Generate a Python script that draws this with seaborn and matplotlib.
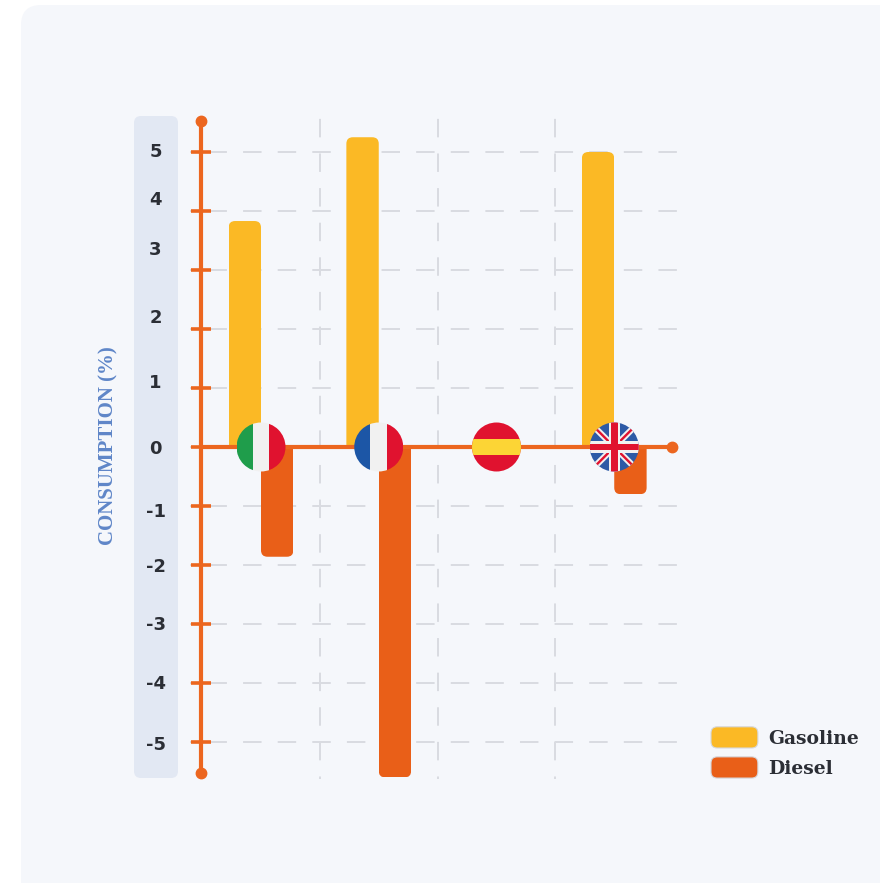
import matplotlib
matplotlib.use("Agg")
import matplotlib.pyplot as plt
from matplotlib.legend_handler import HandlerPatch
from matplotlib.patches import Circle, FancyBboxPatch, Patch, Rectangle
from matplotlib.transforms import ScaledTranslation
import pandas as pd
import seaborn as sns

# Change in fuel consumption by country
countries = ["Italy", "France", "Spain", "United Kingdom"]
gasoline = [3.83, 5.25, 0.0, 5.0]
diesel = [-1.86, -5.6, 0.0, -0.8]
fuels = ["Gasoline", "Diesel"]
fuel_colors = ["#fbb925", "#e95f18"]
tick_values = [5, 4, 3, 2, 1, 0, -1, -2, -3, -4, -5]
tick_labels = ["5", "4", "3", "2", "1", "0", "-1", "-2", "-3", "-4", "-5"]
# Vertical nudge of each tick label, in points
tick_label_nudge = [1.5, 9, 16, 9.5, 5, 0, -3, 0, 0.5, 0.5, -0.5]

AXIS_COLOR = "#ec661f"
GRID_COLOR = "#d9dbe1"
PANEL_COLOR = "#f5f7fb"
STRIP_COLOR = "#e2e8f3"
LABEL_BLUE = "#5f86c8"
TEXT_DARK = "#2b2e35"
FLAG_RED = "#e0122f"
FLAG_WHITE = "#f1f1f1"
FLAG_BLUE = "#1c56a6"
FLAG_GREEN = "#1f9d4b"
FLAG_YELLOW = "#fcd535"
UK_BLUE = "#2d5aa6"

sns.set_theme(style="white")
plt.rcParams["axes.unicode_minus"] = False

fig = plt.figure(figsize=(8.8, 8.83), dpi=100, facecolor="white")

# Background layer measured in pixels from the top-left corner
bg = fig.add_axes([0, 0, 1, 1], zorder=0)
bg.set_xlim(0, 880)
bg.set_ylim(883, 0)
bg.axis("off")
bg.add_patch(FancyBboxPatch((21, 5), 900, 900, boxstyle="round,pad=0,rounding_size=20",
                            fc=PANEL_COLOR, ec="none"))
bg.add_patch(FancyBboxPatch((134, 116), 44, 662, boxstyle="round,pad=0,rounding_size=7",
                            fc=STRIP_COLOR, ec="none"))

ax = fig.add_axes([190 / 880, 1 - 779 / 883, 487 / 880, 664 / 883], zorder=1)
ax.patch.set_alpha(0)

frame = pd.DataFrame({
    "country": countries * 2,
    "fuel": [fuels[0]] * len(countries) + [fuels[1]] * len(countries),
    "value": gasoline + diesel,
})
sns.barplot(data=frame, x="country", y="value", hue="fuel", hue_order=fuels,
            palette=fuel_colors, width=0.55, gap=0, dodge=True, saturation=1,
            legend=False, ax=ax, zorder=2)

ax.set_xlim(-0.603, 3.533)
ax.set_ylim(-5.627, 5.627)

# Round the free end of every bar; the end on the baseline stays square
for container in ax.containers:
    for bar in container:
        x, w = bar.get_x(), bar.get_width()
        lo, hi = sorted((bar.get_y(), bar.get_y() + bar.get_height()))
        if hi - lo < 1e-9:
            continue
        if hi > 0:
            lo -= 1
        else:
            hi += 1
        clip = FancyBboxPatch((x, lo), w, hi - lo, boxstyle="round,pad=0,rounding_size=0.055",
                              mutation_aspect=2.0, transform=ax.transData, fc="none", ec="none")
        bar.set_clip_path(clip)
        bar.set_edgecolor("none")

# Dashed grid
ax.set_axisbelow(True)
ax.set_yticks(tick_values, labels=tick_labels)
ax.set_xticks([0.5, 1.5, 2.5], minor=True)
ax.set_xticks(range(len(countries)), labels=[""] * len(countries))
ax.grid(True, axis="y", which="major", color=GRID_COLOR, lw=1.4, linestyle=(8.3, (9.5, 8.3)))
ax.grid(True, axis="x", which="minor", color=GRID_COLOR, lw=1.4, linestyle=(8.2, (9.5, 8.3)))
ax.grid(False, axis="x", which="major")
ax.tick_params(axis="x", which="both", length=0)

# Orange axes
for name in ("top", "right", "bottom"):
    ax.spines[name].set_visible(False)
left = ax.spines["left"]
left.set_position(("data", -0.51))
left.set_bounds(-5.525, 5.525)
left.set_color(AXIS_COLOR)
left.set_linewidth(3)
ax.tick_params(axis="y", which="major", left=True, direction="inout", length=14.4, width=2.6,
               color=AXIS_COLOR, pad=25.5, labelsize=13, labelcolor=TEXT_DARK)
for label, nudge in zip(ax.get_yticklabels(), tick_label_nudge):
    label.set_fontfamily("DejaVu Sans")
    label.set_fontweight("bold")
    label.set_horizontalalignment("center")
    label.set_transform(label.get_transform() + ScaledTranslation(0, nudge / 72, fig.dpi_scale_trans))

ax.plot([-0.51, -0.51], [-5.525, 5.525], ls="none", marker="o", ms=7.5, color=AXIS_COLOR,
        clip_on=False, zorder=4)
ax.plot([-0.51, 3.49], [0, 0], color=AXIS_COLOR, lw=3, zorder=3, clip_on=False)
ax.plot([3.49], [0], marker="o", ms=7.5, color=AXIS_COLOR, clip_on=False, zorder=4)

ax.set_xlabel("")
ax.set_ylabel("CONSUMPTION (%)", family="Liberation Serif", fontweight="bold", fontsize=15,
              color=LABEL_BLUE)
ax.yaxis.set_label_coords((118 - 190) / 487, (779 - 446) / 664)


# Circular flags sitting on the zero line
def flag_axes(position):
    rx, ry = 24.5 / 117.75, 24.5 / 59
    inset = ax.inset_axes([position - rx, -ry, 2 * rx, 2 * ry], transform=ax.transData, zorder=6)
    inset.set_xlim(-1, 1)
    inset.set_ylim(-1, 1)
    inset.axis("off")
    disc = Circle((0, 0), 1, transform=inset.transData)
    return inset, disc


def add_stripes(inset, disc, stripes):
    for x, y, w, h, color in stripes:
        rect = Rectangle((x, y), w, h, fc=color, ec="none", zorder=3)
        inset.add_patch(rect)
        rect.set_clip_path(disc)


tri_x = 0.34
inset, disc = flag_axes(0)
add_stripes(inset, disc, [(-1, -1, 1 - tri_x, 2, FLAG_GREEN), (-tri_x, -1, 2 * tri_x, 2, FLAG_WHITE),
                          (tri_x, -1, 1 - tri_x, 2, FLAG_RED)])
inset, disc = flag_axes(1)
add_stripes(inset, disc, [(-1, -1, 1 - tri_x, 2, FLAG_BLUE), (-tri_x, -1, 2 * tri_x, 2, FLAG_WHITE),
                          (tri_x, -1, 1 - tri_x, 2, FLAG_RED)])
inset, disc = flag_axes(2)
add_stripes(inset, disc, [(-1, -1, 2, 2, FLAG_RED), (-1, -tri_x, 2, 2 * tri_x, FLAG_YELLOW)])
inset, disc = flag_axes(3)
backdrop = Rectangle((-1, -1), 2, 2, fc=UK_BLUE, ec="none", zorder=1)
inset.add_patch(backdrop)
backdrop.set_clip_path(disc)
for sign in (1, -1):
    for lw, color in ((4.5, FLAG_WHITE), (1.7, FLAG_RED)):
        line, = inset.plot([-1, 1], [-sign, sign], color=color, lw=lw, solid_capstyle="butt", zorder=2)
        line.set_clip_path(disc)
add_stripes(inset, disc, [(-1, -0.23, 2, 0.46, FLAG_WHITE), (-0.23, -1, 0.46, 2, FLAG_WHITE)])
for x, y, w, h in [(-1, -0.14, 2, 0.28), (-0.14, -1, 0.28, 2)]:
    bar_rect = Rectangle((x, y), w, h, fc=FLAG_RED, ec="none", zorder=4)
    inset.add_patch(bar_rect)
    bar_rect.set_clip_path(disc)


# Legend with rounded swatches
def rounded_swatch(legend, orig_handle, xdescent, ydescent, width, height, fontsize):
    return FancyBboxPatch((-xdescent + 1, -ydescent - 1.6), width - 2, height + 3.2,
                          boxstyle="round,pad=0,rounding_size=4.5", mutation_aspect=1)


handles = [Patch(fc=color, ec="#d5d8de", lw=0.8, label=fuel) for fuel, color in zip(fuels, fuel_colors)]
ax.legend(handles=handles, loc="upper left", bbox_to_anchor=((709.6 - 190) / 487, (779 - 729) / 664),
          frameon=False, borderaxespad=0, borderpad=0, handlelength=2.65, handleheight=1.0,
          handletextpad=0.46, labelspacing=0.6,
          handler_map={Patch: HandlerPatch(patch_func=rounded_swatch)},
          prop={"family": "DejaVu Serif", "weight": "bold", "size": 13.5}, labelcolor=TEXT_DARK)

fig.savefig("out.png", dpi=100)
